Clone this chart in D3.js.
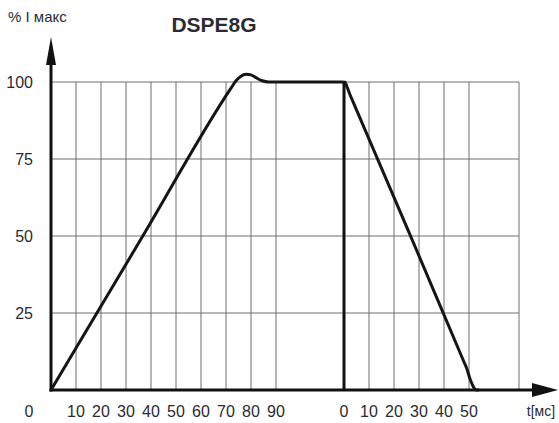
<!doctype html>
<html>
  <head>
    <meta charset="utf-8">
    <title>DSPE8G</title>
    <script src="https://cdnjs.cloudflare.com/ajax/libs/d3/7.8.5/d3.min.js"></script>
    <style>
      body { margin: 0; background: #fff; }
      text { font-family: "Liberation Sans", Arial, sans-serif; fill: #2b2b33; }
    </style>
  </head>
  <body>
    <div id="chart"></div>
    <script>
      // values in % of I max, time in ms
      const yTicks = [25, 50, 75, 100];
      const onTicks = [10, 20, 30, 40, 50, 60, 70, 80, 90];
      const offTicks = [0, 10, 20, 30, 40, 50];
      const offGrid = [10, 20, 30, 40, 50, 70];

      // switch-on current (ms, %)
      const riseCurve = [[0, 0], [36, 49], [72, 98], [74, 100.4], [76, 101.9], [78, 102.5],
                         [80, 102.3], [82, 101.4], [84.5, 100.4], [87, 100]];
      // switch-off current (ms, %)
      const fallCurve = [[-1, 100], [0.4, 99.9], [1.3, 98.2], [2.5, 95.7], [3.5, 93.8],
                         [26, 51.2], [48, 9.1], [49, 7.2], [50.5, 3.4], [51.8, 1], [53, 0], [54, 0]];

      const W = 559, H = 423;
      const svg = d3.select('#chart').append('svg')
        .attr('width', W).attr('height', H);

      const y = d3.scaleLinear().domain([0, 100]).range([390, 82]);
      const xOn = d3.scaleLinear().domain([0, 90]).range([51, 276]);
      const xOff = d3.scaleLinear().domain([0, 70]).range([344, 519]);
      const right = xOff(70);

      // grid
      const grid = svg.append('g').attr('stroke', '#6e6e6e').attr('stroke-width', 1);
      grid.selectAll('.h').data(yTicks).join('line')
        .attr('x1', xOn(0)).attr('x2', right)
        .attr('y1', d => y(d)).attr('y2', d => y(d));
      grid.selectAll('.von').data(onTicks).join('line')
        .attr('x1', d => xOn(d)).attr('x2', d => xOn(d))
        .attr('y1', y(0)).attr('y2', y(100));
      grid.selectAll('.voff').data(offGrid).join('line')
        .attr('x1', d => xOff(d)).attr('x2', d => xOff(d))
        .attr('y1', y(0)).attr('y2', y(100));

      // axes
      const ax = svg.append('g').attr('stroke', '#111').attr('stroke-width', 3);
      ax.append('line').attr('x1', xOn(0)).attr('x2', xOn(0)).attr('y1', y(0) + 1.5).attr('y2', 60);
      ax.append('line').attr('x1', xOn(0) - 1.5).attr('x2', 536).attr('y1', y(0)).attr('y2', y(0));
      ax.append('line').attr('x1', xOff(0)).attr('x2', xOff(0)).attr('y1', y(0)).attr('y2', y(100));
      svg.append('path').attr('fill', '#111')
        .attr('d', `M${xOn(0)},37 L${xOn(0) - 5},65 L${xOn(0) + 5},65 Z`);
      svg.append('path').attr('fill', '#111')
        .attr('d', `M558,${y(0)} L532,${y(0) - 7} L532,${y(0) + 7} Z`);

      // curve
      const pts = riseCurve.map(d => [xOn(d[0]), y(d[1])])
        .concat(fallCurve.map(d => [xOff(d[0]), y(d[1])]));
      svg.append('path')
        .attr('d', d3.line().curve(d3.curveMonotoneX)(pts))
        .attr('fill', 'none').attr('stroke', '#151515')
        .attr('stroke-width', 3).attr('stroke-linejoin', 'round');

      // labels
      svg.selectAll('.yl').data(yTicks).join('text')
        .attr('x', 33).attr('y', d => y(d) + 6)
        .attr('text-anchor', 'end').attr('font-size', 16)
        .text(d => d);

      const bottom = svg.append('g').attr('font-size', 16);
      bottom.selectAll('.xon').data(onTicks).join('text')
        .attr('x', d => xOn(d)).attr('y', 417).attr('text-anchor', 'middle')
        .text(d => d);
      bottom.selectAll('.xoff').data(offTicks).join('text')
        .attr('x', d => xOff(d)).attr('y', 417).attr('text-anchor', 'middle')
        .text(d => d);
      bottom.append('text').attr('x', 29).attr('y', 417).attr('text-anchor', 'middle').text('0');
      bottom.append('text').attr('x', 541).attr('y', 416).attr('text-anchor', 'middle')
        .attr('font-size', 14).text('t[мс]');

      svg.append('text').attr('x', 8).attr('y', 22).attr('font-size', 15).text('% I макс');
      svg.append('text').attr('x', 214).attr('y', 32).attr('text-anchor', 'middle')
        .attr('font-size', 21).attr('font-weight', 'bold').attr('fill', '#111')
        .text('DSPE8G');
    </script>
  </body>
</html>
